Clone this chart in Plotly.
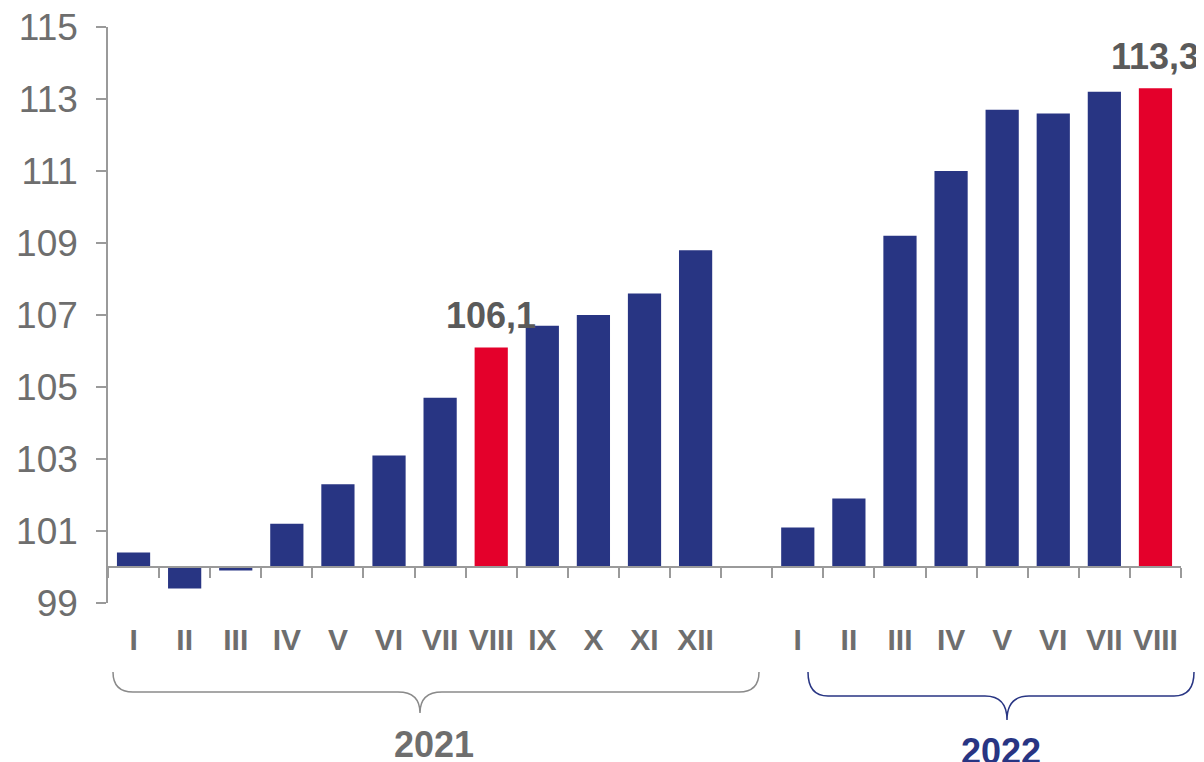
import plotly.graph_objects as go

# ---- data ----
months_2021 = ["I", "II", "III", "IV", "V", "VI", "VII", "VIII", "IX", "X", "XI", "XII"]
values_2021 = [100.4, 99.4, 99.9, 101.2, 102.3, 103.1, 104.7, 106.1, 106.7, 107.0, 107.6, 108.8]
months_2022 = ["I", "II", "III", "IV", "V", "VI", "VII", "VIII"]
values_2022 = [101.1, 101.9, 109.2, 111.0, 112.7, 112.6, 113.2, 113.3]
highlight_2021 = ["VIII"]
highlight_2022 = ["VIII"]
years = ["2021", "2022"]
base_value = 100
y_ticks = [99, 101, 103, 105, 107, 109, 111, 113, 115]

NAVY = "#283583"
RED = "#E4002B"
GREY_TXT = "#6e6e6e"
DARK_TXT = "#5a5a5a"
AXIS = "#9a9a9a"
FONT = "Liberation Sans, Arial, sans-serif"

# categories: 2021 months, blank gap, 2022 months (padded with spaces to stay unique)
gap = " "
cats_2021 = months_2021
cats_2022 = [" " + m + " " for m in months_2022]
categories = cats_2021 + [gap] + cats_2022

def fmt(v):
    return f"{v:.1f}".replace(".", ",")

fig = go.Figure()

fig.add_trace(go.Bar(
    x=cats_2021, y=[v - base_value for v in values_2021], base=base_value,
    marker=dict(color=[RED if m in highlight_2021 else NAVY for m in months_2021],
                line=dict(width=0)),
    showlegend=False, hoverinfo="skip",
))
fig.add_trace(go.Bar(
    x=cats_2022, y=[v - base_value for v in values_2022], base=base_value,
    marker=dict(color=[RED if m in highlight_2022 else NAVY for m in months_2022],
                line=dict(width=0)),
    showlegend=False, hoverinfo="skip",
))

# value labels for highlighted bars
for m, v in zip(months_2021, values_2021):
    if m in highlight_2021:
        fig.add_annotation(x=m, y=v, text=fmt(v), showarrow=False, yanchor="bottom",
                           xanchor="center", yshift=9,
                           font=dict(family=FONT, size=36, color=DARK_TXT, weight="bold"))
for m, c, v in zip(months_2022, cats_2022, values_2022):
    if m in highlight_2022:
        fig.add_annotation(x=c, y=v, text=fmt(v), showarrow=False, yanchor="bottom",
                           xanchor="center", yshift=9,
                           font=dict(family=FONT, size=36, color=DARK_TXT, weight="bold"))

# page offset (body margin) compensation: figure is drawn at (8, 8)
OFF = 8
W, H = 1204 - OFF, 762 - OFF
L, R, T, B = 108 - OFF, 23, 27 - OFF, 159
pw, ph = W - L - R, H - T - B

# helpers mapping screen pixels to paper fractions
def px(x):
    return (x - OFF - L) / pw

def py(y):
    return (H - B - (y - OFF)) / ph

def brace(x0, x1, xc, y_end, y_line, y_tip, r=20, rc=22):
    pts = [
        ("M", [(x0, y_end)]),
        ("Q", [(x0, y_line), (x0 + r, y_line)]),
        ("L", [(xc - rc, y_line)]),
        ("Q", [(xc, y_line), (xc, y_tip)]),
        ("Q", [(xc, y_line), (xc + rc, y_line)]),
        ("L", [(x1 - r, y_line)]),
        ("Q", [(x1, y_line), (x1, y_end)]),
    ]
    s = ""
    for cmd, ps in pts:
        s += cmd + " ".join(f"{px(a):.5f},{py(b):.5f}" for a, b in ps) + " "
    return s.strip()

fig.add_shape(type="path", xref="paper", yref="paper",
              path=brace(113, 759, 420, 672, 692, 713), line=dict(color="#8a8a8a", width=1.5))
fig.add_shape(type="path", xref="paper", yref="paper",
              path=brace(808, 1194, 1007, 672, 696, 720), line=dict(color=NAVY, width=1.5))

fig.add_annotation(xref="paper", yref="paper", x=px(434), y=py(753), yanchor="bottom",
                   xanchor="center", text=years[0], showarrow=False, yshift=-14,
                   font=dict(family=FONT, size=36, color=GREY_TXT, weight="bold"))
fig.add_annotation(xref="paper", yref="paper", x=px(1001), y=py(762), yanchor="bottom",
                   xanchor="center", text=years[1], showarrow=False, yshift=-12,
                   font=dict(family=FONT, size=36, color=NAVY, weight="bold"))

yr = [y_ticks[0], y_ticks[-1]]
fig.update_layout(
    width=W, height=H,
    margin=dict(l=L, r=R, t=T, b=B, autoexpand=False),
    plot_bgcolor="white", paper_bgcolor="white",
    bargap=0.35,
    barmode="overlay",
    font=dict(family=FONT),
    xaxis=dict(
        type="category", categoryorder="array", categoryarray=categories,
        range=[-0.5, len(categories) - 0.5],
        anchor="free", position=(base_value - yr[0]) / (yr[1] - yr[0]),
        showline=True, linecolor=AXIS, linewidth=1.5,
        ticks="outside", tickson="boundaries", ticklen=10, tickcolor=AXIS, tickwidth=1.5,
        ticklabelstandoff=46, tickangle=0, ticklabeloverflow="allow",
        tickfont=dict(family=FONT, size=30, color=GREY_TXT, weight="bold"),
        showgrid=False, zeroline=False, fixedrange=True,
    ),
    yaxis=dict(
        range=yr, tickvals=y_ticks, ticktext=[str(t) for t in y_ticks],
        showline=True, linecolor=AXIS, linewidth=1.5,
        ticks="outside", ticklen=10, tickcolor=AXIS, tickwidth=1.5,
        ticklabelstandoff=11, ticklabeloverflow="allow",
        tickfont=dict(family=FONT, size=37, color=GREY_TXT),
        showgrid=False, zeroline=False, fixedrange=True,
    ),
)

fig.write_html("out.html")
